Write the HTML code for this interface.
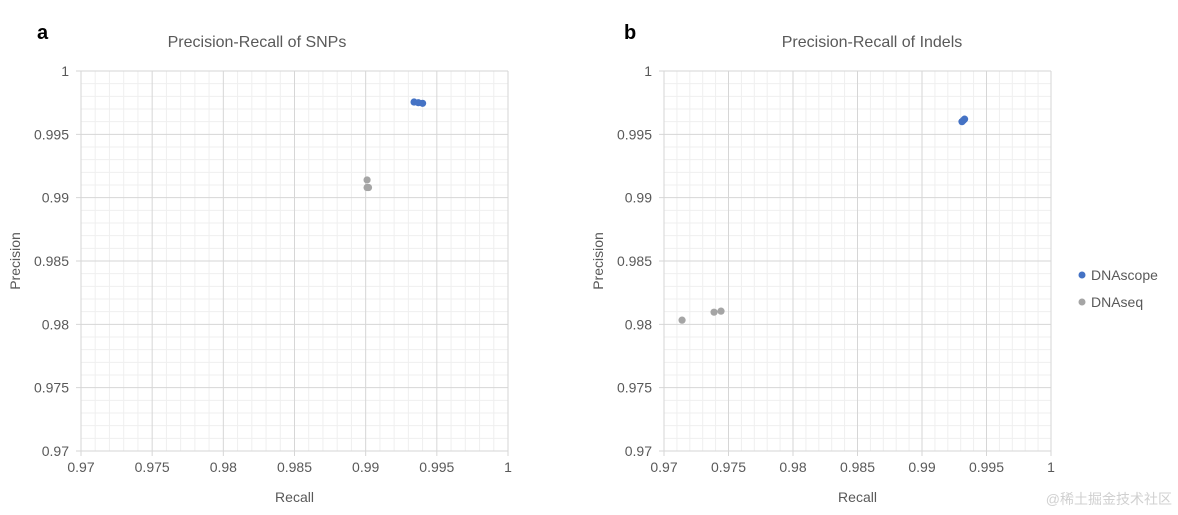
<!DOCTYPE html>
<html><head><meta charset="utf-8">
<style>
body{margin:0;background:#fff;}
svg{display:block;font-family:"Liberation Sans","Noto Sans CJK SC",sans-serif;}
</style></head>
<body>
<svg id="chart" width="1178" height="515"></svg>
<script>
const xTicks=[0.97,0.975,0.98,0.985,0.99,0.995,1];
const yTicks=[0.97,0.975,0.98,0.985,0.99,0.995,1];
const tickLabels=["0.97","0.975","0.98","0.985","0.99","0.995","1"];
const snpScopeRecall=[0.9934,0.9937,0.9940];
const snpScopePrecision=[0.99755,0.9975,0.99745];
const snpSeqRecall=[0.9901,0.9901,0.9902];
const snpSeqPrecision=[0.9914,0.9908,0.9908];
const indelScopeRecall=[0.9931,0.9932,0.9933];
const indelScopePrecision=[0.9960,0.9961,0.9962];
const indelSeqRecall=[0.9714,0.97388,0.97442];
const indelSeqPrecision=[0.98033,0.98096,0.98104];
const NS="http://www.w3.org/2000/svg";
const svg=document.getElementById('chart');
function mk(tag,attrs,parent){const e=document.createElementNS(NS,tag);for(const k in attrs)e.setAttribute(k,attrs[k]);(parent||svg).appendChild(e);return e;}
function panel(id,x0,x1,y0,y1,title,titleX,letter,letterX,scope,seq){
  const g=mk('g',{});
  
  
  const xs=v=>x0+(v-0.97)/0.03*(x1-x0);
  const ys=v=>y1-(v-0.97)/0.03*(y1-y0);
  for(let i=0;i<=30;i++){
    const v=0.97+i*0.001;
    if(i%5===0)continue;
    mk('line',{x1:xs(v),x2:xs(v),y1:y0,y2:y1,stroke:'#efefef','stroke-width':1},g);
    mk('line',{x1:x0,x2:x1,y1:ys(v),y2:ys(v),stroke:'#efefef','stroke-width':1},g);
  }
  xTicks.forEach((v,i)=>{
    const l=mk('line',{x1:xs(v),x2:xs(v),y1:y0,y2:y1+5,stroke:'#d6d6d6','stroke-width':1},g);
    
    
    const t=mk('text',{x:xs(v),y:y1+21,'text-anchor':'middle','font-size':14,fill:'#595959'},g);
    t.textContent=tickLabels[i];
    
    
  });
  yTicks.forEach((v,i)=>{
    const l=mk('line',{x1:x0-5,x2:x1,y1:ys(v),y2:ys(v),stroke:'#d6d6d6','stroke-width':1},g);
    
    
    const t=mk('text',{x:x0-12,y:ys(v)+5,'text-anchor':'end','font-size':14,fill:'#595959'},g);
    t.textContent=tickLabels[i];
    
    
  });
  const tt=mk('text',{x:titleX,y:47,'text-anchor':'middle','font-size':16,fill:'#595959'},g);
  tt.textContent=title;
  
  
  const lt=mk('text',{x:letterX,y:39,'font-size':20,'font-weight':'bold',fill:'#000'},g);
  lt.textContent=letter;
  
  
  const xt=mk('text',{x:(x0+x1)/2,y:502,'text-anchor':'middle','font-size':14,fill:'#595959'},g);
  xt.textContent='Recall';
  
  
  const yt=mk('text',{x:0,y:0,'text-anchor':'middle','font-size':14,fill:'#595959',transform:`translate(${x0-61},${(y0+y1)/2}) rotate(-90)`},g);
  yt.textContent='Precision';
  
  
  [[seq,'#a5a5a5','dnaseq-point'],[scope,'#4472c4','dnascope-point']].forEach(([s,c,n])=>{
    s[0].forEach((r,i)=>{
      const p=mk('circle',{cx:xs(r),cy:ys(s[1][i]),r:3.6,fill:c},g);
      
      
    });
  });
}
panel('snp',81,508,71,451,'Precision-Recall of SNPs',257,'a',37,[snpScopeRecall,snpScopePrecision],[snpSeqRecall,snpSeqPrecision]);
panel('indel',664,1051,71,451,'Precision-Recall of Indels',872,'b',624,[indelScopeRecall,indelScopePrecision],[indelSeqRecall,indelSeqPrecision]);
[['DNAscope','#4472c4',275],['DNAseq','#a5a5a5',302]].forEach(([n,c,y])=>{
  const g=mk('g',{});
  
  
  mk('circle',{cx:1082,cy:y,r:3.5,fill:c},g);
  const t=mk('text',{x:1091,y:y+5,'font-size':14,fill:'#595959'},g);
  t.textContent=n;
});
const w=mk('text',{x:1172,y:504,'text-anchor':'end','font-size':14,fill:'#d0d0d0'});
w.textContent='@稀土掘金技术社区';


</script>
</body></html>
